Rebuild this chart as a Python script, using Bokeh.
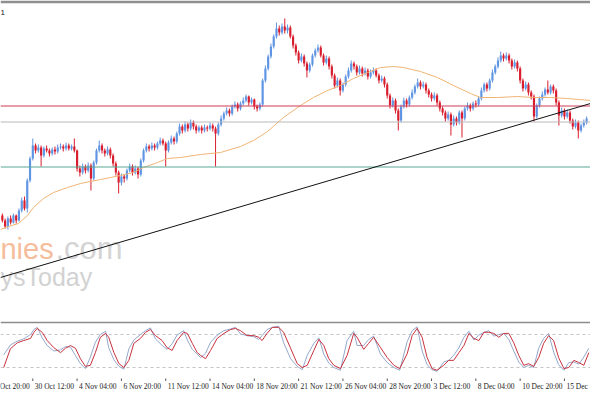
from bokeh.plotting import figure
from bokeh.models import ColumnDataSource, Range1d
from bokeh.layouts import column
from bokeh.embed import file_html
from bokeh.resources import INLINE
from bokeh.core.properties import value

# ---------------- data (H4 bars, bar index 0 = 27 Oct 20:00) ----------------
bar = list(range(5, 217))
open_ = [105,100,94,102,98,105,100,110,120,112,
         140,162,175,170,173,165,172,170,167,171,
         169,173,174,172,175,172,174,170,152,148,
         154,150,155,142,158,170,175,170,167,171,
         165,157,148,138,144,142,150,154,148,152,
         146,160,170,174,172,175,173,177,180,177,
         170,178,182,179,187,194,190,196,192,198,
         194,190,193,190,193,192,195,192,187,196,
         202,207,210,207,214,216,212,217,220,224,
         218,221,214,212,216,240,252,264,274,284,
         292,288,294,290,293,284,275,268,260,264,
         257,250,256,265,270,273,265,258,262,254,
         245,235,240,230,236,244,250,257,254,248,
         252,247,250,244,248,250,245,240,242,236,
         225,215,220,210,200,214,220,216,223,228,
         234,238,234,236,230,226,222,225,218,212,
         208,202,206,196,202,198,208,202,212,215,
         212,217,216,222,230,236,232,240,248,254,
         260,265,262,265,260,254,258,252,240,232,
         236,228,224,204,215,222,226,231,228,234,
         230,218,205,210,204,208,200,194,198,190,
         195,198]
close = [100,94,102,98,105,100,110,120,112,140,
         162,175,170,173,165,172,170,167,171,169,
         173,174,172,175,172,174,170,152,148,154,
         150,155,142,158,170,175,170,167,171,165,
         157,148,138,144,142,150,154,148,152,146,
         160,170,174,172,175,173,177,180,177,170,
         178,182,179,187,194,190,196,192,198,194,
         190,193,190,193,192,195,192,187,196,202,
         207,210,207,214,216,212,217,220,224,218,
         221,214,212,216,240,252,264,274,284,292,
         288,294,290,293,284,275,268,260,264,257,
         250,256,265,270,273,265,258,262,254,245,
         235,240,230,236,244,250,257,254,248,252,
         247,250,244,248,250,245,240,242,236,225,
         215,220,210,200,214,220,216,223,228,234,
         238,234,236,230,226,222,225,218,212,208,
         202,206,196,202,198,208,202,212,215,212,
         217,216,222,230,236,232,240,248,254,260,
         265,262,265,260,254,258,252,240,232,236,
         228,224,204,215,222,226,231,228,234,230,
         218,205,210,204,208,200,194,198,190,195,
         198,202]
high = [107,102,104,105,107,106,112,123,124,142,
        164,182,177,176,175,174,175,172,173,174,
        176,177,176,178,177,176,182,171,155,157,
        156,158,157,160,172,180,177,172,174,173,
        167,159,150,147,146,152,157,156,155,154,
        162,172,177,176,178,177,179,183,182,179,
        180,185,184,189,197,196,199,198,201,200,
        196,195,195,196,195,198,197,194,198,205,
        209,213,212,216,219,218,219,223,226,225,
        223,222,216,218,242,255,266,277,286,298,
        295,297,302,296,295,286,277,270,267,266,
        259,258,267,272,276,275,267,265,264,256,
        247,243,242,238,246,253,260,259,256,255,
        254,253,252,251,253,252,247,245,244,238,
        227,223,222,212,216,223,222,225,231,236,
        242,240,239,238,232,228,228,227,220,214,
        210,209,208,205,204,210,210,214,218,217,
        219,220,224,233,238,238,242,251,256,263,
        269,267,268,267,262,261,260,254,242,239,
        238,230,226,217,224,229,233,240,236,236,
        232,220,213,212,211,210,202,201,200,197,
        201,204]
low = [98,92,91,96,97,97,99,108,110,108,
       138,160,167,168,154,163,168,164,165,166,
       167,171,169,170,170,170,168,149,144,146,
       147,148,130,140,156,168,167,164,165,162,
       154,145,127,135,138,140,148,145,146,142,
       144,158,168,169,170,170,171,175,175,154,
       168,176,176,177,185,187,188,189,190,191,
       187,188,187,188,189,190,189,154,185,194,
       200,205,204,205,212,209,210,215,218,215,
       216,211,209,210,214,238,250,262,272,282,
       285,286,287,287,282,272,265,257,258,254,
       243,248,254,263,268,263,255,256,251,242,
       232,233,225,228,234,242,248,251,245,246,
       244,245,241,242,246,243,237,238,233,222,
       212,213,207,190,198,212,213,214,221,226,
       232,231,232,227,223,219,220,215,209,205,
       199,200,185,194,195,196,183,200,210,209,
       210,213,214,220,228,229,230,238,246,252,
       258,259,260,257,251,252,249,237,229,230,
       225,221,199,202,213,220,224,226,226,227,
       215,195,203,201,202,197,191,192,182,188,
       193,196]

# moving average (orange), read at sample bars
ma_x = [4.33,7.22,10.83,14.08,16.25,19.86,23.47,28.53,33.22,36.84,40.45,44.06,47.67,
        52.37,55.98,61.03,64.64,69.34,76.56,83.79,91.01,95.70,100.76,106.54,
        112.68,117.37,122.43,127.12,131.82,136.87,141.57,146.26,149.87,156.01,
        162.15,167.93,174.07,177.68,183.82,191.05,196.82,202.96,209.10,217.41]
ma_y = [91,94,97,105,113,122,128,133,137,139,141,143,145,
        148,153,158,162,163,166,168,174,180,189,203,
        215,223,230,235,242,248,253,254,253,249,
        243,235,227,223,223,224,223,223,222,220]

# drawn objects
levels = [214.5, 198.5, 153.5]
level_colors = ["#d23a55", "#b9b9b9", "#58a893"]
trend_x = [4.33, 217.4]
trend_y = [43, 217]

# stochastic oscillator
stoch_x = [5.5,7.9,10.4,12.7,15.2,16.4,17.6,19.4,21.2,23.6,26.0,27.8,29.6,31.4,33.2,35.0,
           36.8,38.6,40.4,42.3,43.4,45.3,47.1,48.9,50.7,52.5,54.9,56.7,58.5,60.3,62.7,
           64.5,66.3,68.1,70.5,71.8,73.6,75.4,76.6,78.4,80.2,82.6,85.0,87.4,89.2,91.0,
           93.4,95.8,97.6,98.8,100.6,102.5,104.8,106.6,109.1,111.5,113.3,115.1,117.5,
           119.3,121.1,122.9,124.7,127.1,129.5,131.9,133.1,135.5,137.3,139.1,141.6,
           144.0,146.4,148.5,151.2,153.0,154.8,156.6,158.4,160.2,162.0,164.4,166.2,
           168.0,169.9,171.7,173.5,175.3,177.1,178.9,180.7,182.5,184.3,186.1,187.9,
           189.7,191.5,193.3,195.1,196.9,198.7,200.5,202.3,204.1,205.9,207.8,209.6,
           211.4,213.2,215.0,216.8]
stoch_red = [20,54,65,69,73,84,91,84,69,56,
             47,55,60,55,36,22,24,47,75,82,
             75,47,27,20,33,64,73,84,89,78,
             69,56,51,69,84,82,64,47,42,36,
             51,73,82,89,91,87,78,78,75,69,
             82,93,93,84,55,27,20,24,51,71,
             60,36,24,18,42,82,75,53,64,75,
             56,38,24,18,45,78,91,75,38,18,
             15,24,33,33,47,60,82,73,69,84,
             84,82,75,82,82,65,42,24,27,22,
             38,64,78,69,38,18,20,33,29,24,
             47]
stoch_blue = [43,61,68,72,80,89,93,74,60,50,
              52,58,57,42,27,18,39,66,80,86,
              56,34,22,17,54,70,80,87,92,72,
              60,53,63,79,87,70,53,44,38,46,
              66,79,87,90,93,81,78,76,71,78,
              89,93,95,65,36,22,16,42,64,74,
              44,28,20,15,69,86,60,60,71,77,
              44,29,20,15,67,87,94,50,25,16,
              13,30,33,42,56,75,86,70,79,84,
              87,77,80,82,71,50,30,20,24,20,
              55,73,82,48,25,15,29,30,26,39,
              55]
stoch_levels = [80, 20]

tick_bars = [0, 16, 32, 48, 64, 80, 96, 112, 128, 144, 160, 176, 192, 208]
tick_labels = ["27 Oct 20:00", "30 Oct 12:00", "4 Nov 04:00", "6 Nov 20:00",
               "11 Nov 12:00", "14 Nov 04:00", "18 Nov 20:00", "21 Nov 12:00",
               "26 Nov 04:00", "28 Nov 20:00", "3 Dec 12:00", "8 Dec 04:00",
               "10 Dec 20:00", "15 Dec 12:00"]

# watermark / header texts (bar, price)
wm_x = [4.33, 24.2, 4.33]
wm_y = [71.7, 71.7, 43.3]

# ---------------- styling ----------------
BULL = "#5f95e3"
BEAR = "#d81e2e"
W = 590

xr = Range1d(4.334, 217.41)

main = figure(width=W, height=321, x_range=xr, y_range=Range1d(-1, 317),
              x_axis_type=None, y_axis_type=None, toolbar_location=None,
              output_backend="svg", min_border_left=0, min_border_right=0,
              min_border_top=3, min_border_bottom=0, outline_line_color=None,
              background_fill_color="white", border_fill_color="#8f8f8f")
main.grid.visible = False

# watermark
wm_font = value("Liberation Sans")
main.text(x=[wm_x[0]], y=[wm_y[0]], text=["nies"], text_font=wm_font, text_font_size="29px",
          text_color="#f6bd9c", text_align="left", text_baseline="alphabetic")
main.text(x=[wm_x[1]], y=[wm_y[1]], text=[".com"], text_font=wm_font, text_font_size="31px",
          text_color="#d4d4d4", text_align="left", text_baseline="alphabetic")
main.text(x=[wm_x[2]], y=[wm_y[2]], text=["ysToday"], text_font=wm_font, text_font_size="25px",
          text_color="#d2d2d2", text_align="left", text_baseline="alphabetic")
main.text(x=[4.33], y=[308], text=["1"], text_font=value("Liberation Sans"),
          text_font_size="8px", text_color="#222222", text_align="left",
          text_baseline="alphabetic")

colors = [BULL if c > o else BEAR for o, c in zip(open_, close)]
src = ColumnDataSource(dict(
    x=bar, high=high, low=low,
    top=[max(o, c) for o, c in zip(open_, close)],
    bottom=[min(o, c) for o, c in zip(open_, close)],
    color=colors))
main.segment(x0="x", y0="low", x1="x", y1="high", line_color="color",
             line_width=1, source=src)
main.vbar(x="x", width=0.78, top="top", bottom="bottom", fill_color="color",
          line_color=None, source=src)

main.line(ma_x, ma_y, line_color="#f0b474", line_width=1)
for lv, lc in zip(levels, level_colors):
    main.line([xr.start, xr.end], [lv, lv], line_color=lc, line_width=1)
main.line(trend_x, trend_y, line_color="#111111", line_width=1)

stoch = figure(width=W, height=72, x_range=xr, y_range=Range1d(-27.27, 100),
               x_axis_type=None, y_axis_type=None, toolbar_location=None,
               output_backend="svg", min_border_left=0, min_border_right=0,
               min_border_top=2, min_border_bottom=0, outline_line_color=None,
               background_fill_color="white", border_fill_color="#8c8c8c")
stoch.grid.visible = False
for lv in stoch_levels:
    stoch.line([xr.start, xr.end], [lv, lv], line_color="#c4c4c4", line_width=1,
               line_dash="3 3")
stoch.line(stoch_x, stoch_blue, line_color="#94a8cc", line_width=1)
stoch.line(stoch_x, stoch_red, line_color="#c8323e", line_width=1)

n = len(tick_bars)
stoch.segment(x0=tick_bars, y0=[0] * n, x1=tick_bars, y1=[-4.5] * n,
              line_color="#555555", line_width=1)
stoch.text(x=tick_bars, y=[-14.5] * n, text=tick_labels, x_offset=2,
           text_font=value("Liberation Sans Narrow"), text_font_size="7.5px",
           text_color="#1a1a1a", text_align="left", text_baseline="alphabetic")

layout = column(main, stoch)
open("out.html", "w").write(file_html(layout, INLINE))
